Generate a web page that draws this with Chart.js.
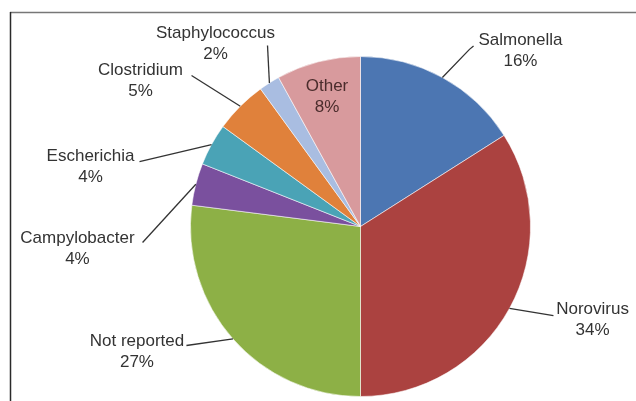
<!DOCTYPE html>
<html>
<head>
<meta charset="utf-8">
<script src="https://cdn.jsdelivr.net/npm/chart.js@4.4.1/dist/chart.umd.min.js"></script>
<style>
  html, body { margin: 0; padding: 0; background: #ffffff; }
  #wrap { width: 636px; height: 401px; position: relative; }
</style>
</head>
<body>
<div id="wrap"><canvas id="c" width="636" height="401"></canvas></div>
<script>
// ---- data ----
const categories = ["Salmonella", "Norovirus", "Not reported", "Campylobacter", "Escherichia", "Clostridium", "Staphylococcus", "Other"];
const percentages = [16, 34, 27, 4, 4, 5, 2, 8];
const sliceColors = ["#4c76b2", "#ab4240", "#8db046", "#7a509e", "#4aa3b6", "#e0813b", "#a9bde1", "#d89a9d"];

// ---- label layout (relative to pie centre, in units of the pie radius) ----
// text: centre of first text line; end: leader end near the label
const labelLayout = [
  { text: [0.941, -1.093], end: [0.641, -1.042], hook: [0.665, -1.062] },
  { text: [1.365, 0.488], end: [1.135, 0.524] },
  { text: [-1.315, 0.676], end: [-1.024, 0.700] },
  { text: [-1.665, 0.071], end: [-1.282, 0.094] },
  { text: [-1.588, -0.412], end: [-1.300, -0.382] },
  { text: [-1.294, -0.918], end: [-0.994, -0.888] },
  { text: [-0.853, -1.135], end: [-0.547, -1.065] },
  { text: [-0.197, -0.824], inside: true }
];

const labelPlugin = {
  id: 'pieLabels',
  afterDraw(chart) {
    const ctx = chart.ctx;
    // frame lines
    ctx.save();
    ctx.lineWidth = 1.5;
    ctx.strokeStyle = '#777777';
    ctx.beginPath(); ctx.moveTo(10, 12.5); ctx.lineTo(636, 12.5); ctx.stroke();
    ctx.strokeStyle = '#2a2a2a';
    ctx.beginPath(); ctx.moveTo(10.5, 12); ctx.lineTo(10.5, 401); ctx.stroke();
    ctx.restore();

    const meta = chart.getDatasetMeta(0);
    meta.data.forEach((arc, i) => {
      const L = labelLayout[i];
      const cx = arc.x, cy = arc.y, r = arc.outerRadius;
      const tx = cx + L.text[0] * r, ty = cy + L.text[1] * r;
      ctx.save();
      if (!L.inside) {
        const a = (arc.startAngle + arc.endAngle) / 2;
        const px = cx + r * Math.cos(a), py = cy + r * Math.sin(a);
        ctx.strokeStyle = '#333333';
        ctx.lineWidth = 1.3;
        ctx.beginPath();
        ctx.moveTo(px, py);
        ctx.lineTo(cx + L.end[0] * r, cy + L.end[1] * r);
        if (L.hook) ctx.lineTo(cx + L.hook[0] * r, cy + L.hook[1] * r);
        ctx.stroke();
      }
      ctx.font = '17px "Liberation Sans", Arial, sans-serif';
      ctx.fillStyle = L.inside ? '#4a2c2c' : '#333333';
      ctx.textAlign = 'center';
      ctx.textBaseline = 'middle';
      ctx.fillText(categories[i], tx, ty);
      ctx.fillText(percentages[i] + '%', tx, ty + 21);
      ctx.restore();
    });
  }
};

new Chart(document.getElementById('c'), {
  type: 'pie',
  data: {
    labels: categories,
    datasets: [{
      data: percentages,
      backgroundColor: sliceColors,
      borderColor: 'rgba(255,255,255,0.55)',
      borderWidth: 1
    }]
  },
  options: {
    responsive: false,
    animation: false,
    layout: { padding: { left: 190, right: 105, top: 56, bottom: 4 } },
    plugins: {
      legend: { display: false },
      tooltip: { enabled: false },
      title: { display: false }
    }
  },
  plugins: [labelPlugin]
});
</script>
</body>
</html>
